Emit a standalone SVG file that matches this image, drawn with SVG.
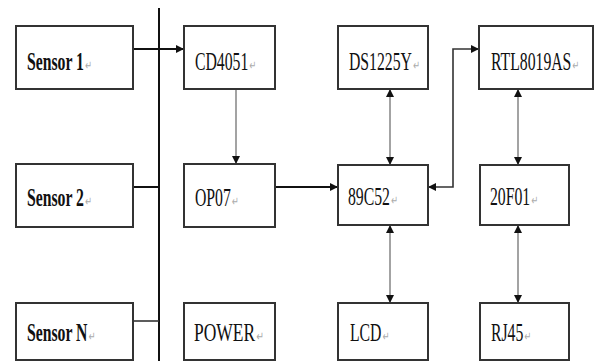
<svg xmlns="http://www.w3.org/2000/svg" width="596" height="361" viewBox="0 0 596 361">
<style>
.box{fill:#fff;stroke:#333;stroke-width:2}
.t{font-family:"Liberation Serif",serif;font-size:25px;fill:#111}
.b{font-weight:bold}
.pm{font-family:"DejaVu Sans",sans-serif;font-size:13px;font-weight:normal;fill:#aaa}
.thick{stroke:#111;stroke-width:2;fill:none}
.thin{stroke:#666;stroke-width:1.2;fill:none}
.mid{stroke:#333;stroke-width:1.6;fill:none}
</style>
<defs>
<marker id="ah" viewBox="0 0 10 10" refX="10" refY="5" markerWidth="9" markerHeight="8" markerUnits="userSpaceOnUse" orient="auto-start-reverse">
<path d="M0,0 L10,5 L0,10 z" fill="#111"/>
</marker>
</defs>
<rect width="596" height="361" fill="#fff"/>
<g id="connectors">
<line class="thick" x1="159" y1="8" x2="159" y2="361"/>
<line class="thick" x1="133" y1="49" x2="184" y2="49" marker-end="url(#ah)"/>
<line class="thick" x1="133" y1="187" x2="159" y2="187"/>
<line class="mid" x1="133" y1="321" x2="159" y2="321"/>
<line class="thin" x1="236" y1="89" x2="236" y2="164" marker-end="url(#ah)"/>
<line class="thick" x1="275" y1="187" x2="338" y2="187" marker-end="url(#ah)"/>
<line class="thin" x1="390" y1="89" x2="390" y2="165" marker-start="url(#ah)" marker-end="url(#ah)"/>
<path class="mid" d="M428,187 H453 V49 H479" marker-start="url(#ah)" marker-end="url(#ah)"/>
<line class="thin" x1="518" y1="89" x2="518" y2="165" marker-start="url(#ah)" marker-end="url(#ah)"/>
<line class="thin" x1="390" y1="225" x2="390" y2="303" marker-start="url(#ah)" marker-end="url(#ah)"/>
<line class="thin" x1="518" y1="225" x2="518" y2="303" marker-start="url(#ah)" marker-end="url(#ah)"/>
</g>
<g id="sensor1"><rect class="box" x="16" y="26" width="117" height="63"/><text class="t b" transform="translate(27,70) scale(0.63,1)">Sensor 1<tspan class="pm" dx="2">↵</tspan></text></g>
<g id="cd4051"><rect class="box" x="184" y="26" width="91" height="63"/><text class="t" transform="translate(195,70) scale(0.63,1)">CD4051<tspan class="pm" dx="2">↵</tspan></text></g>
<g id="ds1225y"><rect class="box" x="338" y="26" width="90" height="63"/><text class="t" transform="translate(349,70) scale(0.63,1)">DS1225Y<tspan class="pm" dx="2">↵</tspan></text></g>
<g id="rtl8019as"><rect class="box" x="479" y="26" width="114" height="63"/><text class="t" transform="translate(491,70) scale(0.63,1)">RTL8019AS<tspan class="pm" dx="2">↵</tspan></text></g>
<g id="sensor2"><rect class="box" x="16" y="164" width="117" height="63"/><text class="t b" transform="translate(27,206) scale(0.63,1)">Sensor 2<tspan class="pm" dx="2">↵</tspan></text></g>
<g id="op07"><rect class="box" x="184" y="164" width="91" height="63"/><text class="t" transform="translate(195,206) scale(0.63,1)">OP07<tspan class="pm" dx="2">↵</tspan></text></g>
<g id="c89c52"><rect class="box" x="338" y="165" width="90" height="60"/><text class="t" transform="translate(348,205) scale(0.63,1)">89C52<tspan class="pm" dx="2">↵</tspan></text></g>
<g id="f20f01"><rect class="box" x="480" y="165" width="89" height="60"/><text class="t" transform="translate(490,205) scale(0.63,1)">20F01<tspan class="pm" dx="2">↵</tspan></text></g>
<g id="sensorN"><rect class="box" x="16" y="303" width="117" height="57"/><text class="t b" transform="translate(27,341) scale(0.63,1)">Sensor N<tspan class="pm" dx="2">↵</tspan></text></g>
<g id="power"><rect class="box" x="184" y="303" width="91" height="57"/><text class="t" transform="translate(194,341) scale(0.7,1)">POWER<tspan class="pm" dx="2">↵</tspan></text></g>
<g id="lcd"><rect class="box" x="338" y="303" width="90" height="57"/><text class="t" transform="translate(350,341) scale(0.63,1)">LCD<tspan class="pm" dx="2">↵</tspan></text></g>
<g id="rj45"><rect class="box" x="480" y="303" width="89" height="57"/><text class="t" transform="translate(491,341) scale(0.63,1)">RJ45<tspan class="pm" dx="2">↵</tspan></text></g>
</svg>
